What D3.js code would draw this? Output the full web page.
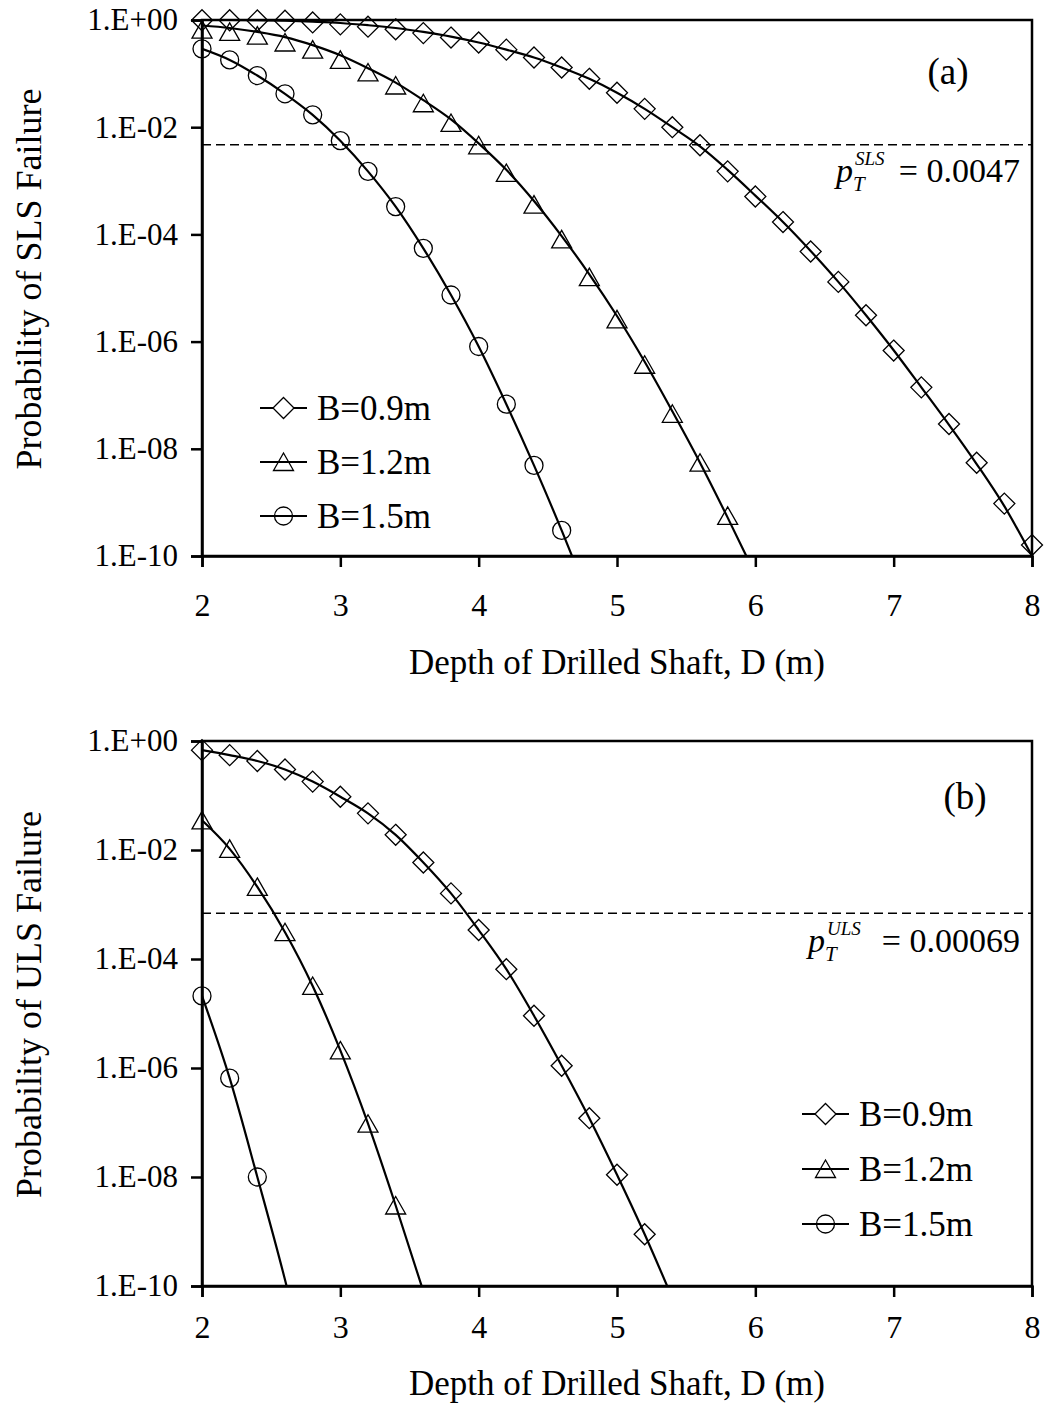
<!DOCTYPE html>
<html>
<head>
<meta charset="utf-8">
<script src="https://cdn.jsdelivr.net/npm/d3@7"></script>
<style>
  body { margin: 0; background: #fff; }
  text { font-family: "Liberation Serif", "Times New Roman", serif; fill: #000; }
</style>
</head>
<body>
<div id="chart"></div>
<script>
// depth values (m) at which points were read
const depths = [2.0, 2.2, 2.4, 2.6, 2.8, 3.0, 3.2, 3.4, 3.6, 3.8, 4.0, 4.2, 4.4, 4.6, 4.8,
  5.0, 5.2, 5.4, 5.6, 5.8, 6.0, 6.2, 6.4, 6.6, 6.8, 7.0, 7.2, 7.4, 7.6, 7.8, 8.0];

const xTickValues = [2, 3, 4, 5, 6, 7, 8];
const yTickValues = [1, 1e-2, 1e-4, 1e-6, 1e-8, 1e-10];
const yTickLabels = ["1.E+00", "1.E-02", "1.E-04", "1.E-06", "1.E-08", "1.E-10"];
const seriesNames = ["B=0.9m", "B=1.2m", "B=1.5m"];
const seriesShapes = ["diamond", "triangle", "circle"];

// (a) SLS: markers and fitted lines
const slsMarks09 = [0.99, 0.99, 0.98, 0.97, 0.90, 0.83, 0.75, 0.67, 0.57, 0.47, 0.38, 0.28, 0.20, 0.13, 0.080,
  0.044, 0.022, 0.010, 4.6e-3, 1.5e-3, 5.1e-4, 1.7e-4, 4.8e-5, 1.3e-5, 3.1e-6, 6.8e-7, 1.4e-7, 2.9e-8, 5.5e-9, 9.5e-10, 1.6e-10];
const slsLine09 = [1.0, 1.0, 0.99, 0.97, 0.93, 0.88, 0.80, 0.71, 0.60, 0.49, 0.38, 0.28, 0.20, 0.13, 0.080,
  0.044, 0.022, 0.010, 4.4e-3, 1.6e-3, 5.3e-4, 1.7e-4, 4.9e-5, 1.3e-5, 3.1e-6, 6.9e-7, 1.4e-7, 2.8e-8, 5.2e-9, 8.5e-10, 1.0e-10];
const slsMarks12 = [0.66, 0.60, 0.51, 0.38, 0.28, 0.18, 0.105, 0.060, 0.028, 0.012, 4.6e-3, 1.4e-3, 3.6e-4, 8.1e-5, 1.6e-5,
  2.6e-6, 3.7e-7, 4.5e-8, 5.5e-9, 5.6e-10];
const slsLine12 = [0.79, 0.71, 0.60, 0.48, 0.34, 0.22, 0.126, 0.068, 0.032, 0.014, 5.0e-3, 1.6e-3, 4.2e-4, 9.3e-5, 1.8e-5,
  3.0e-6, 4.2e-7, 5.0e-8, 5.5e-9, 5.2e-10, 4.5e-11];
const slsMarks15 = [0.29, 0.18, 0.092, 0.042, 0.017, 5.6e-3, 1.5e-3, 3.3e-4, 5.5e-5, 7.4e-6, 8.1e-7, 6.8e-8, 4.9e-9, 3.0e-10];
const slsLine15 = [0.29, 0.18, 0.092, 0.042, 0.017, 5.6e-3, 1.5e-3, 3.3e-4, 5.5e-5, 7.4e-6, 8.1e-7, 6.8e-8, 4.9e-9, 3.0e-10, 1.6e-11];

// (b) ULS
const ulsMarks09 = [0.68, 0.55, 0.43, 0.30, 0.18, 0.095, 0.047, 0.019, 5.9e-3, 1.6e-3, 3.4e-4, 6.5e-5, 9.1e-6, 1.1e-6, 1.2e-7,
  1.1e-8, 8.9e-10];
const ulsLine09 = [0.68, 0.55, 0.43, 0.30, 0.18, 0.095, 0.047, 0.019, 5.9e-3, 1.6e-3, 3.4e-4, 6.5e-5, 9.1e-6, 1.1e-6, 1.2e-7,
  1.1e-8, 8.9e-10, 6.0e-11];
const ulsMarks12 = [0.035, 0.0105, 2.1e-3, 3.1e-4, 3.2e-5, 2.1e-6, 9.5e-8, 3.0e-9];
const ulsLine12 = [0.035, 0.0105, 2.1e-3, 3.1e-4, 3.2e-5, 2.1e-6, 9.5e-8, 3.0e-9, 8.0e-11];
const ulsMarks15 = [2.1e-5, 6.5e-7, 1.0e-8];
const ulsLine15 = [2.1e-5, 6.5e-7, 1.0e-8, 1.3e-10, 1.0e-12];

const targetSLS = 0.0047;
const targetULS = 0.00069;

const width = 1045, height = 1425;
const svg = d3.select("#chart").append("svg")
  .attr("width", width)
  .attr("height", height);

const left = 202, right = 1032;
const tickFont = 31;
const bigFont = 35;

function markerPath(shape) {
  if (shape === "diamond") return "M0,-10.5L10.5,0L0,10.5L-10.5,0Z";
  if (shape === "triangle") return "M0,-9L10,8.5L-10,8.5Z";
  return d3.arc()({ innerRadius: 0, outerRadius: 9, startAngle: 0, endAngle: 2 * Math.PI });
}

function drawPanel(p) {
  const g = svg.append("g");
  const x = d3.scaleLinear().domain([2, 8]).range([left, right]);
  const y = d3.scaleLog().domain([1e-10, 1]).range([p.bottom, p.top]);

  const clipId = "clip-" + p.id;
  g.append("clipPath").attr("id", clipId)
    .append("rect")
    .attr("x", left).attr("y", p.top)
    .attr("width", right - left).attr("height", p.bottom - p.top);

  // target line
  g.append("line")
    .attr("x1", left).attr("x2", right)
    .attr("y1", y(p.target)).attr("y2", y(p.target))
    .attr("stroke", "#000")
    .attr("stroke-width", 1.6)
    .attr("stroke-dasharray", "9,5");

  const line = d3.line()
    .x((d) => x(d.D))
    .y((d) => y(d.v))
    .curve(d3.curveMonotoneX);

  p.series.forEach((s, i) => {
    const lineData = s.line.map((v, k) => ({ D: depths[k], v }));
    const markData = s.marks.map((v, k) => ({ D: depths[k], v }));
    g.append("path")
      .datum(lineData)
      .attr("clip-path", `url(#${clipId})`)
      .attr("d", line)
      .attr("fill", "none")
      .attr("stroke", "#000")
      .attr("stroke-width", 2.2);
    g.selectAll(".mk" + i)
      .data(markData)
      .enter()
      .append("path")
      .attr("class", "mk" + i)
      .attr("transform", (d) => `translate(${x(d.D)},${y(d.v)})`)
      .attr("d", markerPath(seriesShapes[i]))
      .attr("fill", "none")
      .attr("stroke", "#000")
      .attr("stroke-width", 1.3);
  });

  // frame
  g.append("rect")
    .attr("x", left).attr("y", p.top)
    .attr("width", right - left).attr("height", p.bottom - p.top)
    .attr("fill", "none")
    .attr("stroke", "#000")
    .attr("stroke-width", 2.5);

  const xAxis = g.append("g")
    .attr("transform", `translate(0,${p.bottom})`)
    .call(d3.axisBottom(x).tickValues(xTickValues).tickFormat(d3.format("d"))
      .tickSize(11).tickPadding(p.xPad));
  const yAxis = g.append("g")
    .attr("transform", `translate(${left},0)`)
    .call(d3.axisLeft(y).tickValues(yTickValues)
      .tickFormat((d, k) => yTickLabels[k]).tickSize(11).tickPadding(13));
  [xAxis, yAxis].forEach((a) => {
    a.select(".domain").attr("stroke-width", 2.5);
    a.selectAll(".tick line").attr("stroke-width", 2.5);
    a.selectAll("text").style("font-size", tickFont + "px").style("font-family", "Liberation Serif");
  });
  xAxis.selectAll("text").style("font-size", "32px");

  // axis titles
  g.append("text")
    .attr("x", (left + right) / 2)
    .attr("y", p.bottom + p.titleOff)
    .attr("text-anchor", "middle")
    .style("font-size", bigFont + "px")
    .text("Depth of Drilled Shaft, D (m)");
  g.append("text")
    .attr("transform", `translate(41,${(p.top + p.bottom) / 2 - 9}) rotate(-90)`)
    .attr("text-anchor", "middle")
    .style("font-size", "36px")
    .text(p.yTitle);

  // panel label
  g.append("text")
    .attr("x", p.labelX).attr("y", p.labelY)
    .attr("text-anchor", "middle")
    .style("font-size", "37px")
    .text(p.label);

  // target annotation
  const ax = p.annX;
  g.append("text")
    .attr("x", ax).attr("y", p.annY)
    .style("font-size", "34px").style("font-style", "italic")
    .text("p");
  g.append("text")
    .attr("x", ax + 19).attr("y", p.annY - 17)
    .style("font-size", "19px").style("font-style", "italic")
    .text(p.superText);
  g.append("text")
    .attr("x", ax + 17).attr("y", p.annY + 9)
    .style("font-size", "21px").style("font-style", "italic")
    .text("T");
  g.append("text")
    .attr("x", 1020).attr("y", p.annY)
    .attr("text-anchor", "end")
    .style("font-size", "34px")
    .text("= " + p.target);

  // legend
  const leg = g.append("g");
  seriesNames.forEach((name, i) => {
    const ly = p.legY + i * p.legGap;
    leg.append("line")
      .attr("x1", p.legX).attr("x2", p.legX + 47)
      .attr("y1", ly).attr("y2", ly)
      .attr("stroke", "#000").attr("stroke-width", 2.2);
    leg.append("path")
      .attr("transform", `translate(${p.legX + 23.5},${ly})`)
      .attr("d", markerPath(seriesShapes[i]))
      .attr("fill", i === 0 ? "#fff" : "none")
      .attr("stroke", "#000").attr("stroke-width", 1.3);
    leg.append("text")
      .attr("x", p.legX + 57).attr("y", ly)
      .attr("dy", "0.35em")
      .style("font-size", bigFont + "px")
      .text(name);
  });
}

drawPanel({
  id: "a", top: 20, bottom: 556, target: targetSLS,
  yTitle: "Probability of SLS Failure", label: "(a)", labelX: 948, labelY: 84,
  annX: 836, annY: 182, superText: "SLS",
  xPad: 26, titleOff: 118,
  legX: 260, legY: 408, legGap: 54,
  series: [
    { marks: slsMarks09, line: slsLine09 },
    { marks: slsMarks12, line: slsLine12 },
    { marks: slsMarks15, line: slsLine15 },
  ],
});

drawPanel({
  id: "b", top: 741, bottom: 1286, target: targetULS,
  yTitle: "Probability of ULS Failure", label: "(b)", labelX: 965, labelY: 809,
  annX: 808, annY: 952, superText: "ULS",
  xPad: 18, titleOff: 109,
  legX: 802, legY: 1114, legGap: 55,
  series: [
    { marks: ulsMarks09, line: ulsLine09 },
    { marks: ulsMarks12, line: ulsLine12 },
    { marks: ulsMarks15, line: ulsLine15 },
  ],
});
</script>
</body>
</html>
